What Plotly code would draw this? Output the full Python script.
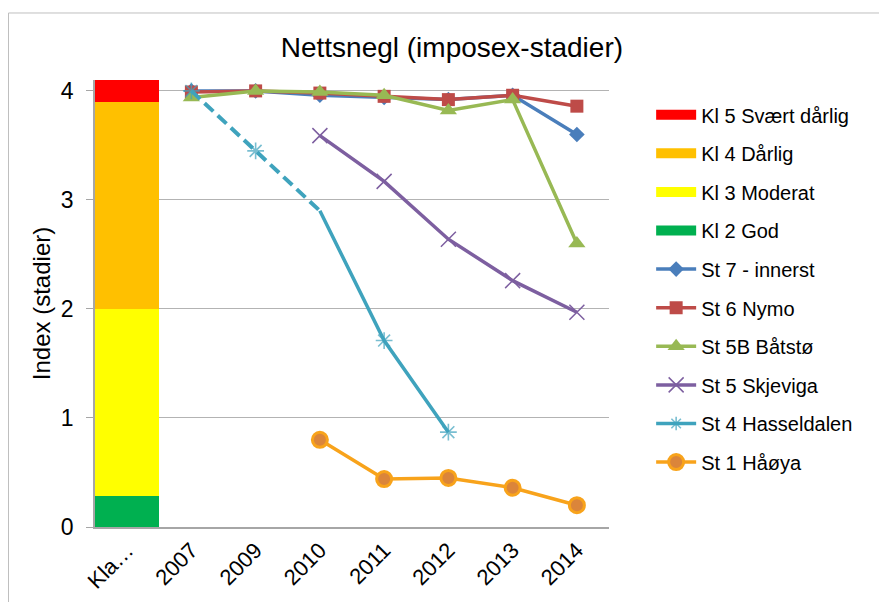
import plotly.graph_objects as go

# ---------------- data ----------------
categories = ["Kla…", "2007", "2009", "2010", "2011", "2012", "2013", "2014"]
years = categories[1:]

class_names = ["Kl 2 God", "Kl 3 Moderat", "Kl 4 Dårlig", "Kl 5 Svært dårlig"]
class_heights = [0.28, 1.72, 1.90, 0.20]

st7_innerst = [4.00, 4.00, 3.96, 3.94, 3.92, 3.96, 3.60]
st6_nymo = [3.99, 4.00, 3.98, 3.95, 3.92, 3.96, 3.86]
st5b_batsto = [3.94, 4.00, 3.99, 3.96, 3.82, 3.92, 2.60]
st5_skjeviga = [None, None, 3.59, 3.17, 2.64, 2.26, 1.97]
st4_hasseldalen = [4.00, 3.45, 2.90, 1.71, 0.87, None, None]
st1_haoya = [None, None, 0.80, 0.44, 0.45, 0.36, 0.20]

# ---------------- styles ----------------
class_colors = ["#00B050", "#FFFF00", "#FFC000", "#FF0000"]
class_rank = [4, 3, 2, 1]
FONT = "Liberation Sans, Arial, sans-serif"

fig = go.Figure()

for name, h, col, rk in zip(class_names, class_heights, class_colors, class_rank):
    fig.add_trace(go.Bar(
        x=[categories[0]], y=[h], name=name, marker=dict(color=col, line=dict(width=0)),
        showlegend=False, legendgroup=name, width=1.0, hoverinfo="skip",
    ))
    # legend entry drawn as a wide band like the original
    fig.add_trace(go.Scatter(
        x=[None], y=[None], name=name, mode="lines", line=dict(color=col, width=10),
        legendrank=rk, legendgroup=name, showlegend=True,
    ))

line_series = [
    ("St 7 - innerst", st7_innerst, "#4A7EBB", "diamond", 12, dict(color="#4A7EBB", width=0), 5),
    ("St 6 Nymo", st6_nymo, "#BE4B48", "square", 13, dict(color="#BE4B48", width=0), 6),
    ("St 5B Båtstø", st5b_batsto, "#98B954", "triangle-up", 15, dict(color="#98B954", width=0), 7),
    ("St 5 Skjeviga", st5_skjeviga, "#7D5FA0", "x-thin-open", 15, dict(color="#9A86BD", width=1.5), 8),
]
for name, vals, col, sym, size, mline, rk in line_series:
    fig.add_trace(go.Scatter(
        x=years, y=vals, name=name, mode="lines+markers",
        line=dict(color=col, width=3.5),
        marker=dict(symbol=sym, size=size, color=col, line=mline),
        legendrank=rk, legendgroup=name,
    ))

# St 4 Hasseldalen: dashed first part, solid second part
teal = "#3FA3BD"
n_dash = 3
fig.add_trace(go.Scatter(
    x=years[:n_dash], y=st4_hasseldalen[:n_dash], mode="lines+markers", showlegend=False,
    line=dict(color=teal, width=4, dash="12px,6px"),
    marker=dict(symbol="asterisk-open", size=[14, 14, 0], color=teal, line=dict(color=teal, width=1.6)),
    legendgroup="St 4 Hasseldalen",
))
fig.add_trace(go.Scatter(
    x=years[n_dash - 1:], y=st4_hasseldalen[n_dash - 1:], name="St 4 Hasseldalen", mode="lines+markers",
    line=dict(color=teal, width=3.5),
    marker=dict(symbol="asterisk-open", size=[0, 14, 14, 14, 14], color=teal, line=dict(color=teal, width=1.6)),
    legendrank=9, legendgroup="St 4 Hasseldalen",
))

fig.add_trace(go.Scatter(
    x=years, y=st1_haoya, name="St 1 Håøya", mode="lines+markers",
    line=dict(color="#F8A31B", width=3.5),
    marker=dict(symbol="circle", size=15, color="#DB853A", line=dict(color="#F8A31B", width=3)),
    legendrank=10, legendgroup="St 1 Håøya",
))

fig.update_layout(
    width=879, height=594,
    margin=dict(l=87, r=278, t=72, b=75),
    paper_bgcolor="white", plot_bgcolor="white",
    barmode="stack", bargap=0,
    font=dict(family=FONT, color="#000000", size=20),
    title=dict(text="Nettsnegl (imposex-stadier)", x=0.505, xanchor="center", y=0.934, yanchor="middle",
               font=dict(size=28, family=FONT)),
    showlegend=True,
    legend=dict(x=1.082, xanchor="left", y=0.966, yanchor="top", font=dict(size=20, family=FONT),
                tracegroupgap=9.6, itemwidth=40, bgcolor="rgba(0,0,0,0)", traceorder="grouped"),
    xaxis=dict(type="category", categoryorder="array", categoryarray=categories,
               range=[-0.5, 7.5], tickangle=-45, showline=True, linecolor="#A6A6A6", linewidth=1.5,
               showgrid=False, ticks="", tickfont=dict(size=22), automargin=False),
    yaxis=dict(range=[0, 4.1], tickvals=[0, 1, 2, 3, 4], showgrid=True, gridcolor="#B3B3B3",
               gridwidth=1.3, showline=True, linecolor="#A6A6A6", linewidth=1.5,
               ticks="outside", ticklen=7, tickcolor="#A6A6A6", zeroline=False,
               ticklabelstandoff=8, automargin=False,
               title=dict(text="Index (stadier)", font=dict(size=24), standoff=3),
               tickfont=dict(size=23)),
    shapes=[dict(type="rect", xref="paper", yref="paper", x0=-0.1683, x1=2.5, y0=-1.0, y1=1.1499,
                 line=dict(color="#BFBFBF", width=1), fillcolor="rgba(0,0,0,0)", layer="below")],
)

fig.write_html("out.html")
